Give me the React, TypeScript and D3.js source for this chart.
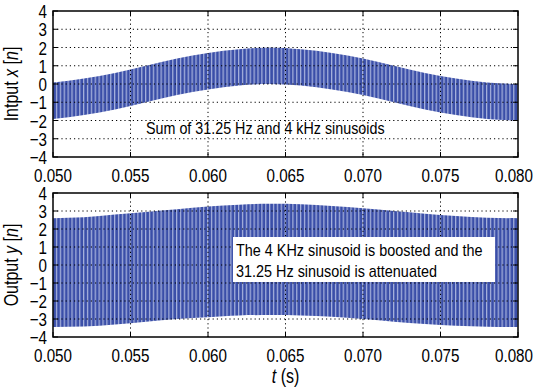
import * as d3 from 'd3';
import { useEffect, useRef } from 'react';

const envTime = [0.05, 0.052, 0.054, 0.056, 0.058, 0.06, 0.062, 0.064, 0.066, 0.068, 0.07, 0.072, 0.074, 0.076, 0.078, 0.08];
const inUpper = [0.08, 0.3, 0.6, 1.0, 1.4, 1.7, 1.9, 2.0, 1.9, 1.7, 1.4, 1.0, 0.6, 0.3, 0.08, 0.0];
const inLower = [-1.92, -1.7, -1.4, -1.0, -0.6, -0.3, -0.08, 0.0, -0.08, -0.3, -0.6, -1.0, -1.4, -1.7, -1.92, -2.0];
const outUpper = [2.6, 2.65, 2.8, 2.95, 3.1, 3.25, 3.35, 3.4, 3.38, 3.28, 3.15, 3.0, 2.85, 2.72, 2.63, 2.6];
const outLower = [-3.45, -3.42, -3.3, -3.15, -3.0, -2.9, -2.8, -2.78, -2.8, -2.88, -3.0, -3.15, -3.28, -3.38, -3.43, -3.45];

const timeTicks = [0.05, 0.055, 0.06, 0.065, 0.07, 0.075, 0.08];
const ampTicks = [-4, -3, -2, -1, 0, 1, 2, 3, 4];
const carrierPeriod = 1 / 4000;

const FONT = '"Liberation Sans", Arial, sans-serif';
const BLUE = '#3a4ea8';

type Sel = d3.Selection<SVGGElement, unknown, null, undefined>;

// condensed text: squeeze horizontally around its anchor point
function narrowText(g: Sel, px: number, py: number, size: number, anchor = 'start', rot = 0, sx = 0.8) {
  return g
    .append('text')
    .attr('transform', `translate(${px},${py}) rotate(${rot}) scale(${sx},1)`)
    .attr('text-anchor', anchor)
    .attr('font-family', FONT)
    .attr('font-size', size)
    .attr('fill', '#000');
}

export default function App() {
  const svgRef = useRef<SVGSVGElement>(null);

  useEffect(() => {
    if (!svgRef.current) return;
    const svg = d3.select(svgRef.current);
    svg.selectAll('*').remove();

    const W = 535;
    const left = 53;
    const right = 518;
    const x = d3.scaleLinear().domain([0.05, 0.08]).range([left, right]);

    const defs = svg.append('defs');
    const stripeW = x(0.05 + carrierPeriod) - x(0.05);
    const pat = defs
      .append('pattern')
      .attr('id', 'carrier')
      .attr('patternUnits', 'userSpaceOnUse')
      .attr('x', left)
      .attr('y', 0)
      .attr('width', stripeW)
      .attr('height', 389);
    pat.append('rect').attr('width', stripeW).attr('height', 389).attr('fill', '#aab4de');
    pat.append('rect').attr('x', 0.3).attr('width', stripeW * 0.68).attr('height', 389).attr('fill', BLUE);

    const root = svg.append('g') as unknown as Sel;

    const panels = [
      { id: 'top', top: 11, bottom: 157, upper: inUpper, lower: inLower, label: ['Intput ', 'x', ' [', 'n', ']'] },
      { id: 'bot', top: 193, bottom: 337, upper: outUpper, lower: outLower, label: ['Output ', 'y', ' [', 'n', ']'] },
    ];

    panels.forEach((p) => {
      const y = d3.scaleLinear().domain([-4, 4]).range([p.bottom, p.top]);
      const g = root.append('g') as unknown as Sel;

      defs
        .append('clipPath')
        .attr('id', `clip-${p.id}`)
        .append('rect')
        .attr('x', left)
        .attr('y', p.top)
        .attr('width', right - left)
        .attr('height', p.bottom - p.top);

      // signal band
      const area = d3
        .area<number>()
        .x((_, i) => x(envTime[i]))
        .y0((_, i) => y(p.lower[i]))
        .y1((_, i) => y(p.upper[i]))
        .curve(d3.curveMonotoneX);
      g.append('path')
        .datum(envTime)
        .attr('d', area)
        .attr('fill', 'url(#carrier)')
        .attr('clip-path', `url(#clip-${p.id})`);

      // grid
      const grid = g.append('g').attr('stroke', '#000').attr('stroke-width', 1).attr('stroke-dasharray', '1.2,3');
      grid
        .selectAll('line.gx')
        .data(timeTicks.slice(1, -1))
        .join('line')
        .attr('x1', (d) => x(d))
        .attr('x2', (d) => x(d))
        .attr('y1', p.top)
        .attr('y2', p.bottom);
      grid
        .selectAll('line.gy')
        .data(ampTicks.slice(1, -1))
        .join('line')
        .attr('x1', left)
        .attr('x2', right)
        .attr('y1', (d) => y(d))
        .attr('y2', (d) => y(d));

      // ticks, inward on all four sides
      const ticks = g.append('g').attr('stroke', '#000').attr('stroke-width', 1);
      timeTicks.forEach((t) => {
        ticks.append('line').attr('x1', x(t)).attr('x2', x(t)).attr('y1', p.bottom).attr('y2', p.bottom - 5);
        ticks.append('line').attr('x1', x(t)).attr('x2', x(t)).attr('y1', p.top).attr('y2', p.top + 5);
      });
      ampTicks.forEach((v) => {
        ticks.append('line').attr('x1', left).attr('x2', left + 5).attr('y1', y(v)).attr('y2', y(v));
        ticks.append('line').attr('x1', right).attr('x2', right - 5).attr('y1', y(v)).attr('y2', y(v));
      });

      g.append('rect')
        .attr('x', left)
        .attr('y', p.top)
        .attr('width', right - left)
        .attr('height', p.bottom - p.top)
        .attr('fill', 'none')
        .attr('stroke', '#000')
        .attr('stroke-width', 1.5);

      // tick labels
      ampTicks.forEach((v) => {
        narrowText(g, 47, y(v) + 7, 19, 'end').text(v < 0 ? `\u2212${-v}` : `${v}`);
      });
      timeTicks.forEach((t) => {
        // last label is pulled in so it stays inside the figure
        narrowText(g, Math.min(x(t), W - 21), p.bottom + 25, 19, 'middle').text(d3.format('.3f')(t));
      });

      const lab = narrowText(g, 18, (p.top + p.bottom) / 2, 20, 'middle', -90);
      p.label.forEach((s, i) => {
        lab.append('tspan').attr('font-style', i % 2 === 1 ? 'italic' : 'normal').text(s);
      });

      if (p.id === 'top') {
        narrowText(g, 146, 134, 16, 'start', 0, 0.895).text('Sum of 31.25 Hz and 4 kHz sinusoids');
      } else {
        g.append('rect').attr('x', 233).attr('y', 237).attr('width', 262).attr('height', 45).attr('fill', '#fff');
        narrowText(g, 236, 256, 16, 'start', 0, 0.9).text('The 4 KHz sinusoid is boosted and the');
        narrowText(g, 236, 277, 16, 'start', 0, 0.9).text('31.25 Hz sinusoid is attenuated');
      }
    });

    const xl = narrowText(root, (left + right) / 2, 383, 20, 'middle');
    xl.append('tspan').attr('font-style', 'italic').text('t');
    xl.append('tspan').text(' (s)');
  }, []);

  return (
    <svg
      ref={svgRef}
      width={535}
      height={389}
      style={{ position: 'absolute', left: 0, top: 0, background: '#fff' }}
    />
  );
}
